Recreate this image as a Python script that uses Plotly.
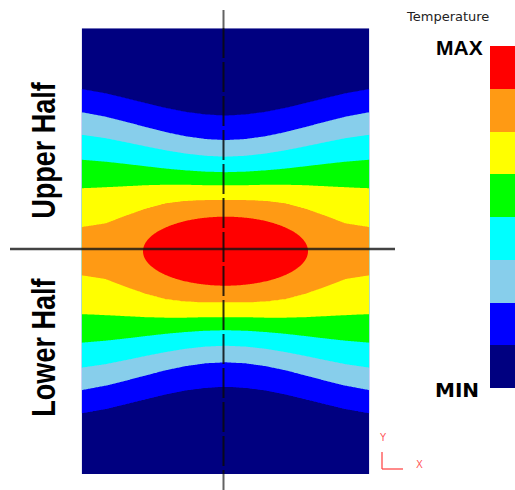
import numpy as np
import plotly.graph_objects as go

# ---------------- data (pixel units of the model) ----------------
HALF_WIDTH = 143.8          # half width of the section
HALF_HEIGHT = 222.9         # half height of the section

# horizontal offsets from the centre line where band boundaries were read
DX = [0, 20, 40, 60, 80, 100, 120, 144]
# distance of each band boundary from the mid-plane at those offsets
NAVY_BLUE = [135.5, 136.6, 139.2, 143.2, 148.0, 153.0, 157.8, 162.0]
BLUE_LIGHTBLUE = [111.0, 112.1, 114.9, 119.1, 124.2, 129.5, 134.5, 139.0]
LIGHTBLUE_CYAN = [94.5, 95.4, 97.6, 100.9, 104.8, 109.0, 113.0, 116.5]
CYAN_GREEN = [79.0, 79.5, 80.8, 82.6, 84.9, 87.3, 89.5, 91.5]
GREEN_YELLOW = [66.0, 66.0, 66.5, 66.5, 66.0, 65.0, 64.0, 63.0]
YELLOW_ORANGE = [51.3, 51.3, 50.5, 48.0, 42.6, 35.5, 27.8, 24.0]
RED_CORE = {"half_w": 82.5, "half_h": 34.5}   # elliptical hot core

BAND_COLORS = ["#000080", "#0000FF", "#87CEEB", "#00FFFF",
               "#00FF00", "#FFFF00", "#FF9A14", "#FF0000"]
LEVELS = [1, 2, 3, 4, 5, 6, 7]

# ---------------- build the temperature field ----------------
xs = np.linspace(-HALF_WIDTH, HALF_WIDTH, 289)
ys = np.linspace(-HALF_HEIGHT, HALF_HEIGHT, 447)
X, Y = np.meshgrid(xs, ys)
ax = np.abs(X)
d = np.abs(Y)

def bnd(tab):
    return np.interp(ax, DX, tab)

yo = bnd(YELLOW_ORANGE)
knots = [yo, bnd(GREEN_YELLOW), bnd(CYAN_GREEN), bnd(LIGHTBLUE_CYAN),
         bnd(BLUE_LIGHTBLUE), bnd(NAVY_BLUE)]
vals = [6, 5, 4, 3, 2, 1]

Z = np.full(X.shape, 0.2)
rho = np.sqrt((X / RED_CORE["half_w"]) ** 2 + (Y / RED_CORE["half_h"]) ** 2)
z_orange = 6 + 0.95 * (yo - d) / yo
z_core = 7 + 3.0 * (1 - rho)
Z = np.where(d < yo, np.maximum(z_orange, z_core), Z)
for k in range(len(knots) - 1):
    a, b = knots[k], knots[k + 1]
    m = (d >= a) & (d < b)
    Z = np.where(m, vals[k] + (vals[k + 1] - vals[k]) * (d - a) / (b - a), Z)
last = knots[-1]
Z = np.where(d >= last, np.maximum(1 - (d - last) / 60.0, 0.05), Z)
Z = np.round(Z, 3)

# discrete colorscale
n = len(BAND_COLORS)
cs = []
for i, c in enumerate(BAND_COLORS):
    cs.append([i / n, c])
    cs.append([(i + 1) / n, c])

W, H = 515, 490              # figure size (body margin removed in post script)
CX, CY = 225.5, 251.2        # window pixel position of model centre

def px(x):
    return x / W

def py(y):
    return 1 - y / H

fig = go.Figure()
fig.add_trace(go.Contour(
    x=xs, y=ys, z=Z,
    zmin=0, zmax=8,
    autocontour=False,
    contours=dict(start=LEVELS[0], end=LEVELS[-1], size=1, coloring="fill", showlines=False),
    line=dict(width=0),
    colorscale=cs,
    colorbar=dict(
        x=px(490), xanchor="left", xpad=0,
        y=py(46), yanchor="top", ypad=0,
        len=342, lenmode="pixels",
        thickness=25, thicknessmode="pixels",
        outlinewidth=0, showticklabels=False, ticks="",
    ),
    hoverinfo="skip",
))

line_col = "rgba(20,20,20,0.8)"
shapes = [
    dict(type="line", xref="paper", yref="paper", x0=px(10), x1=px(395), y0=py(249), y1=py(249),
         line=dict(color=line_col, width=2.5)),
    dict(type="line", xref="paper", yref="paper", x0=px(223.5), x1=px(223.5), y0=py(10), y1=py(28),
         line=dict(color="rgba(60,60,60,0.8)", width=2)),
    dict(type="line", xref="paper", yref="paper", x0=px(223.5), x1=px(223.5), y0=py(28), y1=py(474),
         line=dict(color="rgba(10,10,10,0.85)", width=2, dash="30px,4px")),
    dict(type="line", xref="paper", yref="paper", x0=px(223.5), x1=px(223.5), y0=py(474), y1=py(490),
         line=dict(color="rgba(60,60,60,0.8)", width=2)),
    dict(type="line", xref="paper", yref="paper", x0=px(382), x1=px(382), y0=py(452), y1=py(469),
         line=dict(color="rgba(255,70,70,0.85)", width=1.5)),
    dict(type="line", xref="paper", yref="paper", x0=px(382), x1=px(403), y0=py(469), y1=py(469),
         line=dict(color="rgba(255,70,70,0.85)", width=1.5)),
]

def ann(text, x, y, size, family, color="black", angle=0, bold=False):
    t = f"<b>{text}</b>" if bold else text
    return dict(text=t, x=px(x), y=py(y), xref="paper", yref="paper", showarrow=False,
                xanchor="center", yanchor="middle", textangle=angle,
                font=dict(size=size, family=family, color=color))

annotations = [
    ann("Temperature", 447, 17, 13, "DejaVu Sans", color="#222"),
    ann("MAX", 459, 47, 21, "Liberation Sans, Arial", bold=True),
    ann("MIN", 457, 390, 20, "DejaVu Sans", bold=True),
    ann("Upper Half", 43, 150, 33, "Liberation Sans, Arial", angle=-90, bold=True),
    ann("Lower Half", 43, 347, 33, "Liberation Sans, Arial", angle=-90, bold=True),
    ann("Y", 383, 437, 10, "DejaVu Sans", color="rgba(255,70,70,0.9)"),
    ann("X", 419, 464, 10, "DejaVu Sans", color="rgba(255,70,70,0.9)"),
]

fig.update_layout(
    width=W, height=H,
    margin=dict(l=0, r=0, t=0, b=0, autoexpand=False),
    paper_bgcolor="white", plot_bgcolor="white",
    xaxis=dict(range=[-CX, W - CX], visible=False, showgrid=False, zeroline=False, fixedrange=True),
    yaxis=dict(range=[CY - H, CY], visible=False, showgrid=False, zeroline=False, fixedrange=True),
    shapes=shapes, annotations=annotations, showlegend=False,
    hovermode=False,
)

# remove page margin; narrow the side labels (condensed bold face like the original)
post = """
document.body.style.margin = '0';
document.body.style.overflow = 'hidden';
document.documentElement.style.overflow = 'hidden';
var gd = document.getElementById('{plot_id}');
function squeeze(){
  gd.querySelectorAll('text.annotation-text').forEach(function(t){
    if (t.textContent.indexOf('Half') >= 0) {
      t.style.transformBox = 'fill-box';
      t.style.transformOrigin = 'center';
      t.style.transform = 'scaleX(0.82)';
    }
  });
}
squeeze();
if (gd.on) { gd.on('plotly_afterplot', squeeze); }
"""

fig.write_html("out.html", post_script=post, config={"displayModeBar": False, "staticPlot": True})
